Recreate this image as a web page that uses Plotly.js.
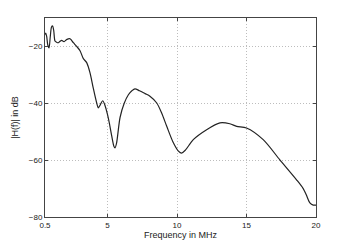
<!DOCTYPE html>
<html><head><meta charset="utf-8">
<script src="https://cdn.plot.ly/plotly-3.0.1.min.js"></script>
<style>html,body{margin:0;padding:0;background:#fff}#c{width:349px;height:244px}</style>
</head><body><div id="c"></div>
<script>
const freqMHz = [0.5,0.55,0.62,0.7,0.79,0.88,0.97,1.05,1.13,1.22,1.33,1.46,1.58,1.7,1.87,2.05,2.3,2.54,2.78,3.02,3.26,3.5,3.74,3.97,4.22,4.34,4.48,4.65,4.8,5.0,5.13,5.3,5.45,5.54,5.65,5.9,6.2,6.5,6.75,6.97,7.3,7.7,8.05,8.54,8.9,9.26,9.7,10.1,10.33,10.6,11.17,12.13,13.09,13.8,14.29,15.0,16.2,17.4,18.6,19.08,19.3,19.56,19.8,20.0];
const gainDB = [-15.8,-15.3,-16.5,-19.5,-20.5,-16.5,-13.2,-12.8,-14.5,-18.1,-18.5,-18.7,-18.2,-17.9,-18.3,-17.6,-17.3,-18.7,-20.0,-21.5,-24.3,-25.7,-29.3,-34.6,-39.9,-41.6,-40.5,-39.1,-40.5,-44.0,-47.0,-51.5,-55.0,-55.7,-54.0,-45.0,-40.0,-37.0,-35.6,-34.9,-35.6,-36.6,-37.5,-39.9,-43.5,-48.1,-53.5,-56.8,-57.5,-56.5,-52.8,-49.3,-46.9,-47.2,-48.1,-48.7,-52.8,-59.9,-66.9,-70.0,-72.2,-75.0,-75.8,-75.8];
const xTicks = [0.5,5,10,15,20];
const yTicks = [-80,-60,-40,-20];

const axisCommon = {
  showline:true, mirror:'ticks', linecolor:'#444', linewidth:1,
  ticks:'inside', ticklen:3, tickcolor:'#444',
  showgrid:true, gridcolor:'#bdbdbd', griddash:'1px,2px', gridwidth:1,
  zeroline:false,
  tickfont:{family:'Liberation Sans, Arial, sans-serif', size:8, color:'#222'}
};
Plotly.newPlot('c', [{
  x: freqMHz, y: gainDB, type:'scatter', mode:'lines',
  line:{color:'#222', width:1.2, shape:'spline', smoothing:0.8}
}], {
  width:349, height:244,
  margin:{l:45, r:33, t:18, b:27},
  paper_bgcolor:'#fff', plot_bgcolor:'#fff',
  showlegend:false,
  xaxis: Object.assign({}, axisCommon, {
    range:[0.5,20], tickvals:xTicks, ticktext:xTicks.map(String),
    title:{text:'Frequency in MHz', standoff:2, font:{family:'Liberation Sans, Arial, sans-serif', size:9, color:'#222'}}
  }),
  yaxis: Object.assign({}, axisCommon, {
    range:[-80,-10], tickvals:yTicks,
    title:{text:'|H(f)| in dB', standoff:8, font:{family:'Liberation Sans, Arial, sans-serif', size:9, color:'#222'}}
  })
}, {staticPlot:true, displayModeBar:false});
</script>
</body></html>
